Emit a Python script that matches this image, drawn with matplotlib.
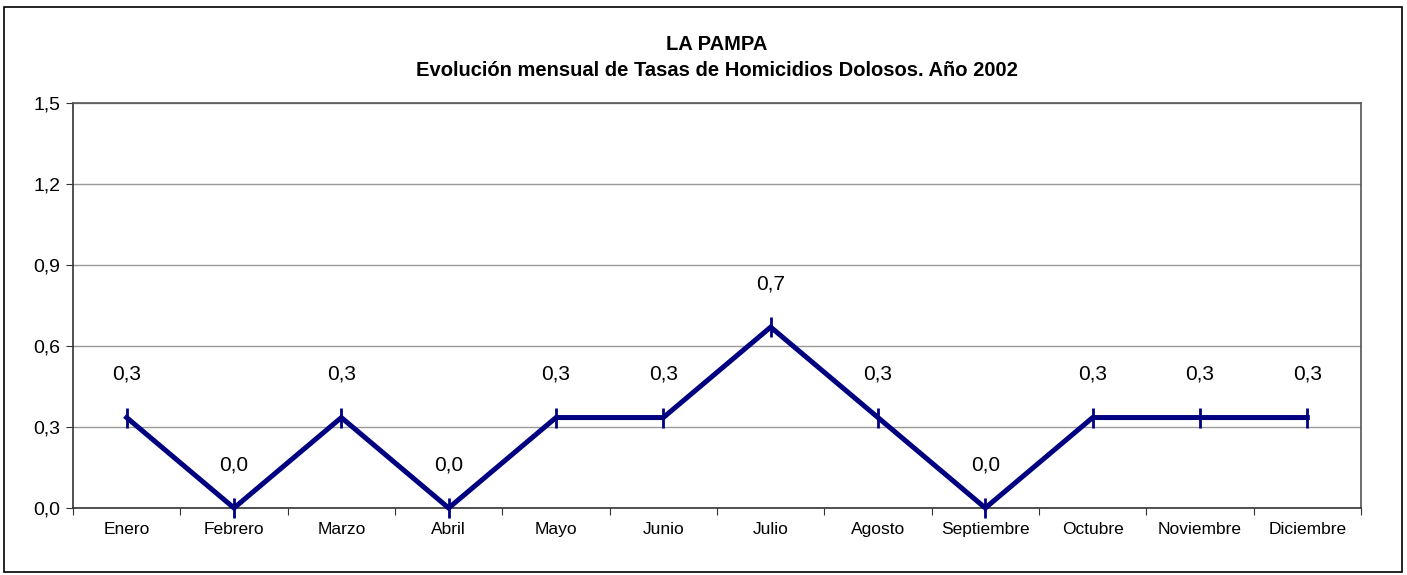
import matplotlib.pyplot as plt
from matplotlib.patches import Rectangle

plt.rcParams['font.family'] = ['Liberation Sans', 'DejaVu Sans']

meses = ['Enero', 'Febrero', 'Marzo', 'Abril', 'Mayo', 'Junio', 'Julio',
         'Agosto', 'Septiembre', 'Octubre', 'Noviembre', 'Diciembre']
tasas = [0.335, 0.0, 0.335, 0.0, 0.335, 0.335, 0.67, 0.335, 0.0, 0.335, 0.335, 0.335]
yticks = [0.0, 0.3, 0.6, 0.9, 1.2, 1.5]

fig = plt.figure(figsize=(14.07, 5.75), dpi=100)
ax = fig.add_axes([73/1407, 1 - 508/575, (1361 - 73)/1407, (508 - 103)/575])

x = list(range(len(meses)))
ax.plot(x, tasas, color='#000080', lw=3.6, marker='|', markersize=15,
        markeredgewidth=2, solid_joinstyle='miter', zorder=3, clip_on=False)

for xi, v in zip(x, tasas):
    ax.annotate(f'{v:.1f}'.replace('.', ','), (xi, v), xytext=(0, 31),
                textcoords='offset points', ha='center', va='center', fontsize=15)

ax.set_xlim(-0.5, len(meses) - 0.5)
ax.set_ylim(0, 1.5)
ax.set_yticks(yticks)
ax.set_yticklabels([f'{t:.1f}'.replace('.', ',') for t in yticks], fontsize=14)
ax.set_xticks([i - 0.5 for i in range(len(meses) + 1)])
ax.set_xticklabels([])
ax.set_xticks(x, minor=True)
ax.set_xticklabels(meses, minor=True, fontsize=12.5)
ax.tick_params(axis='x', which='minor', length=0, pad=10)
ax.tick_params(axis='x', which='major', length=5, color='#333333')
ax.tick_params(axis='y', length=5, color='#333333', pad=4)
ax.grid(axis='y', color='#999999', lw=1)
ax.set_axisbelow(True)
for s in ax.spines.values():
    s.set_color('#555555')
    s.set_linewidth(1.2)
ax.spines['left'].set_color('#333333')
ax.spines['bottom'].set_color('#333333')

fig.text(717/1407, 1 - 45/575, 'LA PAMPA', ha='center', va='center',
         fontsize=14.5, fontweight='bold')
fig.text(717/1407, 1 - 70/575, 'Evolución mensual de Tasas de Homicidios Dolosos. Año 2002',
         ha='center', va='center', fontsize=14.5, fontweight='bold')

fig.patches.append(Rectangle((4/1407, 3/575), 1398/1407, 565/575, transform=fig.transFigure,
                             fill=False, edgecolor='black', lw=1.2))

plt.savefig('out.png', dpi=100)
